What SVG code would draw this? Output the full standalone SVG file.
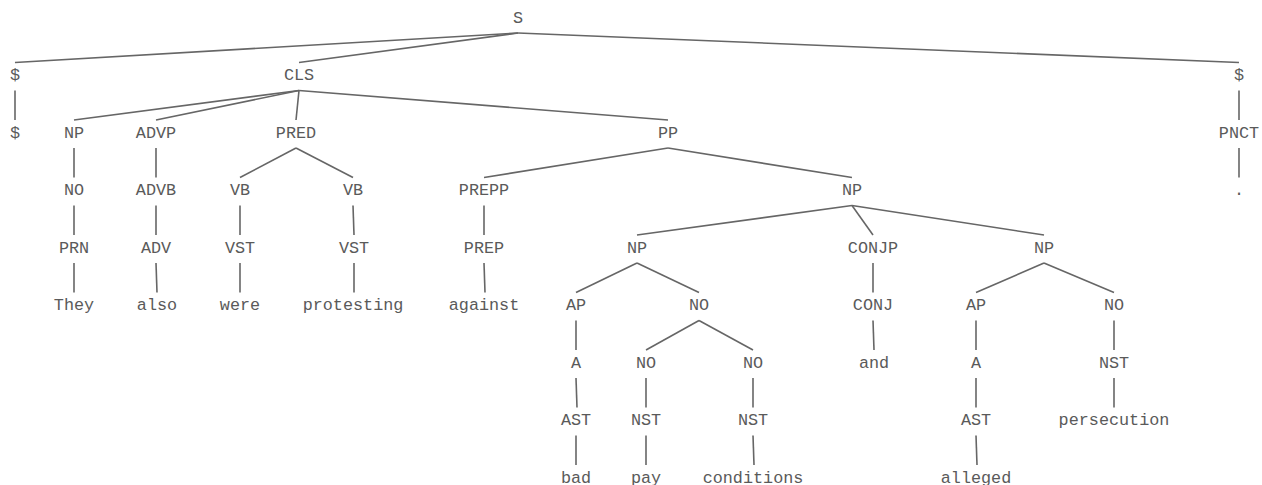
<svg xmlns="http://www.w3.org/2000/svg" width="1262" height="485" viewBox="0 0 1262 485">
<style>
text{font-family:"Liberation Mono","Courier New",monospace;font-size:16.8px;fill:#5a5a5a;text-anchor:middle}
.e line{stroke:#666;stroke-width:1.6;fill:none}
</style>
<rect width="1262" height="485" fill="#fff"/>
<g class="e" id="connectors">
<line x1="518" y1="33" x2="15" y2="62.5"/>
<line x1="518" y1="33" x2="299" y2="62.5"/>
<line x1="518" y1="33" x2="1239" y2="62.5"/>
<line x1="15" y1="90.5" x2="15" y2="120"/>
<line x1="1239" y1="90.5" x2="1239" y2="120"/>
<line x1="1239" y1="148" x2="1239" y2="177.5"/>
<line x1="299" y1="90.5" x2="74" y2="120"/>
<line x1="299" y1="90.5" x2="156" y2="120"/>
<line x1="299" y1="90.5" x2="296" y2="120"/>
<line x1="299" y1="90.5" x2="668" y2="120"/>
<line x1="74" y1="148" x2="74" y2="177.5"/>
<line x1="74" y1="205.5" x2="74" y2="235"/>
<line x1="74" y1="263" x2="74" y2="292.5"/>
<line x1="156" y1="148" x2="156" y2="177.5"/>
<line x1="156" y1="205.5" x2="156" y2="235"/>
<line x1="156" y1="263" x2="157" y2="292.5"/>
<line x1="296" y1="148" x2="240" y2="177.5"/>
<line x1="296" y1="148" x2="353" y2="177.5"/>
<line x1="240" y1="205.5" x2="240" y2="235"/>
<line x1="240" y1="263" x2="240" y2="292.5"/>
<line x1="353" y1="205.5" x2="354" y2="235"/>
<line x1="354" y1="263" x2="354" y2="292.5"/>
<line x1="668" y1="148" x2="484" y2="177.5"/>
<line x1="668" y1="148" x2="852" y2="177.5"/>
<line x1="484" y1="205.5" x2="484" y2="235"/>
<line x1="484" y1="263" x2="485" y2="292.5"/>
<line x1="852" y1="205.5" x2="637" y2="235"/>
<line x1="852" y1="205.5" x2="873" y2="235"/>
<line x1="852" y1="205.5" x2="1044" y2="235"/>
<line x1="637" y1="263" x2="576" y2="292.5"/>
<line x1="637" y1="263" x2="699" y2="292.5"/>
<line x1="576" y1="320.5" x2="576" y2="350"/>
<line x1="576" y1="378" x2="577" y2="407.5"/>
<line x1="576" y1="435.5" x2="576" y2="465"/>
<line x1="699" y1="320.5" x2="646" y2="350"/>
<line x1="699" y1="320.5" x2="753" y2="350"/>
<line x1="646" y1="378" x2="646" y2="407.5"/>
<line x1="646" y1="435.5" x2="646" y2="465"/>
<line x1="753" y1="378" x2="753" y2="407.5"/>
<line x1="753" y1="435.5" x2="754" y2="465"/>
<line x1="873" y1="263" x2="873" y2="292.5"/>
<line x1="873" y1="320.5" x2="874" y2="350"/>
<line x1="1044" y1="263" x2="976" y2="292.5"/>
<line x1="1044" y1="263" x2="1114" y2="292.5"/>
<line x1="976" y1="320.5" x2="976" y2="350"/>
<line x1="976" y1="378" x2="976" y2="407.5"/>
<line x1="976" y1="435.5" x2="977" y2="465"/>
<line x1="1114" y1="320.5" x2="1114" y2="350"/>
<line x1="1114" y1="378" x2="1114" y2="407.5"/>
</g>
<g id="n-S"><text x="518" y="22.5">S</text></g>
<g id="n-dollar1"><text x="15" y="80">$</text></g>
<g id="n-CLS"><text x="299" y="80">CLS</text></g>
<g id="n-dollar3"><text x="1239" y="80">$</text></g>
<g id="n-dollar2"><text x="15" y="137.5">$</text></g>
<g id="n-PNCT"><text x="1239" y="137.5">PNCT</text></g>
<g id="n-dot"><text x="1239" y="195">.</text></g>
<g id="n-NP1"><text x="74" y="137.5">NP</text></g>
<g id="n-ADVP"><text x="156" y="137.5">ADVP</text></g>
<g id="n-PRED"><text x="296" y="137.5">PRED</text></g>
<g id="n-PP"><text x="668" y="137.5">PP</text></g>
<g id="n-NO1"><text x="74" y="195">NO</text></g>
<g id="n-PRN"><text x="74" y="252.5">PRN</text></g>
<g id="n-They"><text x="74" y="310">They</text></g>
<g id="n-ADVB"><text x="156" y="195">ADVB</text></g>
<g id="n-ADV"><text x="156" y="252.5">ADV</text></g>
<g id="n-also"><text x="157" y="310">also</text></g>
<g id="n-VB1"><text x="240" y="195">VB</text></g>
<g id="n-VST1"><text x="240" y="252.5">VST</text></g>
<g id="n-were"><text x="240" y="310">were</text></g>
<g id="n-VB2"><text x="353" y="195">VB</text></g>
<g id="n-VST2"><text x="354" y="252.5">VST</text></g>
<g id="n-protesting"><text x="353" y="310">protesting</text></g>
<g id="n-PREPP"><text x="484" y="195">PREPP</text></g>
<g id="n-PREP"><text x="484" y="252.5">PREP</text></g>
<g id="n-against"><text x="484" y="310">against</text></g>
<g id="n-NP2"><text x="852" y="195">NP</text></g>
<g id="n-NP3"><text x="637" y="252.5">NP</text></g>
<g id="n-CONJP"><text x="873" y="252.5">CONJP</text></g>
<g id="n-NP4"><text x="1044" y="252.5">NP</text></g>
<g id="n-AP1"><text x="576" y="310">AP</text></g>
<g id="n-NO2"><text x="699" y="310">NO</text></g>
<g id="n-CONJ"><text x="873" y="310">CONJ</text></g>
<g id="n-AP2"><text x="976" y="310">AP</text></g>
<g id="n-NO5"><text x="1114" y="310">NO</text></g>
<g id="n-A1"><text x="576" y="367.5">A</text></g>
<g id="n-NO3"><text x="646" y="367.5">NO</text></g>
<g id="n-NO4"><text x="753" y="367.5">NO</text></g>
<g id="n-and"><text x="874" y="367.5">and</text></g>
<g id="n-A2"><text x="976" y="367.5">A</text></g>
<g id="n-NST3"><text x="1114" y="367.5">NST</text></g>
<g id="n-AST1"><text x="576" y="425">AST</text></g>
<g id="n-NST1"><text x="646" y="425">NST</text></g>
<g id="n-NST2"><text x="753" y="425">NST</text></g>
<g id="n-AST2"><text x="976" y="425">AST</text></g>
<g id="n-persecution"><text x="1114" y="425">persecution</text></g>
<g id="n-bad"><text x="576" y="482.5">bad</text></g>
<g id="n-pay"><text x="646" y="482.5">pay</text></g>
<g id="n-conditions"><text x="753" y="482.5">conditions</text></g>
<g id="n-alleged"><text x="976" y="482.5">alleged</text></g>
</svg>
